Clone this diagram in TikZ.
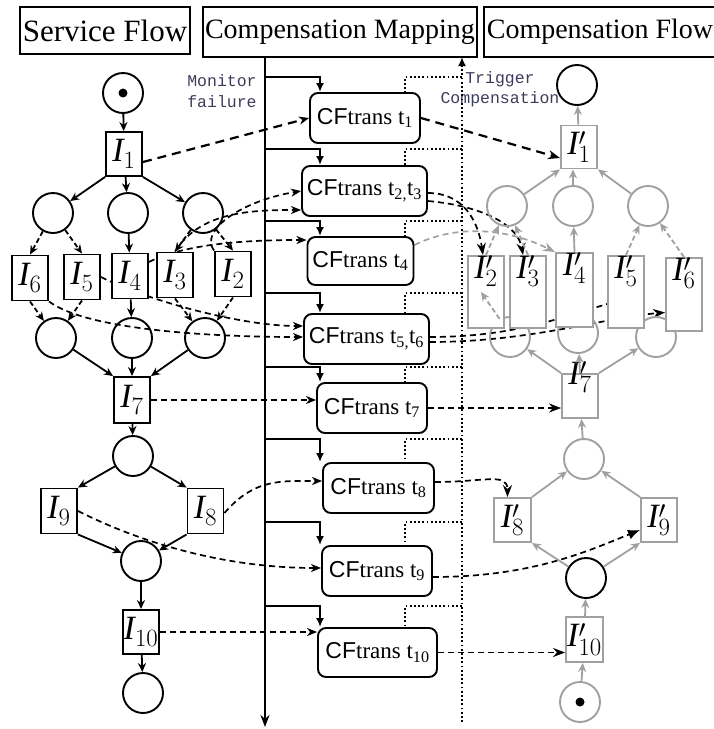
\documentclass[tikz,border=0pt]{standalone}
\usepackage{fontspec}
\setmainfont{Liberation Serif}
\newfontfamily\cfsans{Liberation Sans}
\newfontfamily\notefont{Liberation Mono}
\usetikzlibrary{arrows.meta}
\definecolor{cgrey}{RGB}{160,160,160}
\definecolor{notecol}{RGB}{60,60,90}
\pgfdeclarelayer{bg}
\pgfsetlayers{bg,main}

\begin{document}
\begin{tikzpicture}[x=1pt, y=-1pt,
  place/.style={circle, draw, line width=1.9pt, minimum size=40pt, inner sep=0pt},
  gplace/.style={place, draw=cgrey},
  tok/.style={circle, fill=black, minimum size=9pt, inner sep=0pt},
  trans/.style={rectangle, draw, fill=white, line width=1.9pt, minimum width=36pt,
    minimum height=44pt, inner sep=0pt, font=\fontsize{34}{36}\selectfont},
  gtrans/.style={trans, draw=cgrey},
  tall/.style={gtrans, minimum height=72pt},
  tlab/.style={anchor=north, inner sep=0pt, font=\fontsize{34}{36}\selectfont},
  cfbox/.style={rectangle, rounded corners=8pt, draw, fill=white, line width=1.9pt,
    minimum height=50pt, inner xsep=5pt, font=\fontsize{23}{25}\selectfont},
  title/.style={rectangle, draw, line width=1.9pt, inner sep=2pt, minimum height=50pt},
  note/.style={align=center, text=notecol, font=\notefont\fontsize{16.5}{20.5}\selectfont},
  arc/.style={line width=1.8pt, -{Stealth[length=9pt,width=8pt]}},
  darc/.style={arc, dash pattern=on 5pt off 3pt},
  garc/.style={arc, draw=cgrey},
  gdarc/.style={garc, dash pattern=on 5pt off 3pt},
  map/.style={line width=1.7pt, dash pattern=on 6pt off 4pt, -{Stealth[length=10pt,width=8pt,inset=3pt]}},
  mapr/.style={line width=1.7pt, dash pattern=on 6pt off 4pt, -{Stealth[length=12pt,width=9pt]}},
  branch/.style={line width=1.9pt, -{Latex[length=9pt,width=8pt]}},
  dots/.style={line width=1.8pt, dash pattern=on 1.8pt off 2.4pt}
]
  \useasboundingbox (0,0) rectangle (713,729);

  % titles
  \node[title, minimum width=170pt, minimum height=47pt, font=\fontsize{31}{33}\selectfont] (sf) at (105,30.5) {Service Flow};
  \node[title, minimum width=274pt, font=\fontsize{28}{30}\selectfont] (cm) at (340,32) {Compensation Mapping};
  \node[title, minimum width=232pt, font=\fontsize{28}{30}\selectfont] (cf) at (600,32) {Compensation Flow};
  \node[note] (mon) at (222,91) {Monitor\\failure};
  \node[note] (trig) at (500,89) {Trigger\\Compensation};

  % Service Flow
  \node[place] (p0) at (123,93) {};
  \node[tok] (tk0) at (p0) {};
  \node[trans] (i1) at (124,154) {$\mathit{I}_1$};
  \node[place] (pa1) at (53,213) {};
  \node[place] (pa2) at (128,213) {};
  \node[place] (pa3) at (203,213) {};
  \node[trans, minimum height=45pt] (i6) at (30,278) {$\mathit{I}_6$};
  \node[trans, minimum height=45pt] (i5) at (82,277) {$\mathit{I}_5$};
  \node[trans, minimum height=45pt] (i4) at (130,276) {$\mathit{I}_4$};
  \node[trans, minimum height=45pt] (i3) at (175,275) {$\mathit{I}_3$};
  \node[trans, minimum height=45pt] (i2) at (233,274) {$\mathit{I}_2$};
  \node[place] (pb1) at (56,338) {};
  \node[place] (pb2) at (132,338) {};
  \node[place] (pb3) at (205,338) {};
  \node[trans, minimum height=46pt] (i7) at (132,400) {$\mathit{I}_7$};
  \node[place] (pc) at (133,456) {};
  \node[trans, minimum height=45pt] (i9) at (59,511) {$\mathit{I}_9$};
  \node[trans, minimum height=45pt] (i8) at (205.5,511) {$\mathit{I}_8$};
  \node[place] (pd) at (141,561) {};
  \node[trans] (i10) at (141,632) {$\mathit{I}_{10}$};
  \node[place] (pe) at (143,693) {};

  % Compensation Mapping
  \node[cfbox, minimum width=110pt] (t1) at (365,118) {{\cfsans CF}trans t\textsubscript{1}};
  \node[cfbox, minimum width=123pt] (t23) at (364.5,191) {{\cfsans CF}trans t\textsubscript{2,}t\textsubscript{3}};
  \node[cfbox, minimum width=105pt, minimum height=48pt] (t4) at (360.5,261) {{\cfsans CF}trans t\textsubscript{4}};
  \node[cfbox, minimum width=123pt] (t56) at (366.5,339) {{\cfsans CF}trans t\textsubscript{5,}t\textsubscript{6}};
  \node[cfbox, minimum width=110pt] (t7) at (372,408) {{\cfsans CF}trans t\textsubscript{7}};
  \node[cfbox, minimum width=111pt] (t8) at (378.5,488) {{\cfsans CF}trans t\textsubscript{8}};
  \node[cfbox, minimum width=110pt] (t9) at (377,571) {{\cfsans CF}trans t\textsubscript{9}};
  \node[cfbox, minimum width=119pt, minimum height=49pt] (t10) at (377.5,652.5) {{\cfsans CF}trans t\textsubscript{10}};

  \coordinate (mtop) at (265,57);
  \coordinate (mbot) at (265,727);
  \draw[line width=1.9pt, -{Stealth[length=12pt,width=9pt]}] (mtop) -- (mbot);
  \coordinate (dtop) at (462,57);
  \coordinate (dbot) at (462,722);
  \draw[dots, -{Latex[length=9pt,width=8pt]}] (dbot) -- (dtop);
  \foreach \y/\n in {77/t1, 149/t23, 221/t4, 293/t56, 367/t7, 439/t8, 522/t9, 606/t10} {
    \coordinate (b\n) at (320,\y);
    \coordinate (d\n) at (405,\y);
    \draw[branch] (mtop |- b\n) -- (b\n) -- (b\n |- \n.north);
    \draw[dots] (dtop |- d\n) -- (d\n) -- (d\n |- \n.north);
  }

  % Compensation Flow
  \node[place] (q0) at (577,85) {};
  \node[gtrans, minimum height=43pt] (j1) at (579,147) {$\mathit{I}'_1$};
  \node[gplace] (qa1) at (507,206) {};
  \node[gplace] (qa2) at (573,206) {};
  \node[gplace] (qa3) at (648,206) {};
  \node[gplace] (qb1) at (510,337) {};
  \node[gplace] (qb2) at (578,333) {};
  \node[gplace] (qb3) at (656,337) {};
  \node[tall, label={[tlab]north:$\mathit{I}'_2$}] (j2) at (486,292) {};
  \node[tall, label={[tlab]north:$\mathit{I}'_3$}] (j3) at (528,292) {};
  \node[tall, minimum width=37pt, minimum height=74pt, label={[tlab]north:$\mathit{I}'_4$}] (j4) at (574.5,290) {};
  \node[tall, label={[tlab]north:$\mathit{I}'_5$}] (j5) at (626,292) {};
  \node[tall, minimum height=73pt, label={[tlab]north:$\mathit{I}'_6$}] (j6) at (684,294.5) {};
  \node[gtrans, label={[tlab, anchor=center, yshift=-4pt]north:$\mathit{I}'_7$}] (j7) at (580,396) {};
  \node[gplace] (qc) at (584,459) {};
  \node[gtrans, minimum width=37pt] (j8) at (512.5,520) {$\mathit{I}'_8$};
  \node[gtrans] (j9) at (659,520) {$\mathit{I}'_9$};
  \node[place] (qd) at (586,578) {};
  \node[gtrans, minimum width=37pt, minimum height=45pt] (j10) at (584.5,639.5) {$\mathit{I}'_{10}$};
  \node[gplace] (qe) at (580,702) {};
  \node[tok] (tk1) at (qe) {};

  % service flow arcs
  \draw[arc] (p0) -- (i1);
  \draw[arc] (i1.south west) -- (pa1);
  \draw[arc] (i1) -- (pa2);
  \draw[arc] (i1.south east) -- (pa3);
  \draw[darc] (pa1) -- (i6.north);
  \draw[darc] (pa1) -- (i5.north);
  \draw[arc] (pa2) -- (i4);
  \draw[darc] (pa3) -- (i3.north);
  \draw[darc] (pa3) -- (i2.north);
  \draw[darc] (i6.south) -- (pb1);
  \draw[darc] (i5.south) -- (pb1);
  \draw[arc] (i4) -- (pb2);
  \draw[darc] (i3.south) -- (pb3);
  \draw[darc] (i2.south) -- (pb3);
  \draw[arc] (pb1) -- (i7.north west);
  \draw[arc] (pb2) -- (i7);
  \draw[arc] (pb3) -- (i7.north east);
  \draw[arc] (i7) -- (pc);
  \draw[arc] (pc) -- (i9.north east);
  \draw[arc] (pc) -- (i8.north west);
  \draw[arc] (i9.south east) -- (pd);
  \draw[arc] (i8.south west) -- (pd);
  \draw[arc] (pd) -- (i10);
  \draw[arc] (i10) -- (pe);

  % compensation flow arcs
  \draw[garc] (j1) -- (q0);
  \draw[garc] (qa1) -- (j1.south west);
  \draw[garc] (qa2) -- (qa2 |- j1.south);
  \draw[garc] (qa3) -- (j1.south east);
  \draw[gdarc] (j2.north) -- (qa1);
  \draw[gdarc] (j3.north) -- (qa1);
  \draw[garc] (j4.north) -- (qa2);
  \draw[gdarc] (j5.north) -- (qa3);
  \draw[gdarc] (j6.north) -- (qa3);
  \draw[gdarc] (qb1.120) -- ([xshift=-5pt]j2.center);
  \draw[garc] (j7.north west) -- (qb1);
  \draw[garc] (j7.north) -- (qb2);
  \draw[garc] (j7.north east) -- (qb3);
  \draw[garc] (qc) -- (j7);
  \draw[garc] (j8.north east) -- (qc);
  \draw[garc] (j9.north west) -- (qc);
  \draw[garc] (qd) -- (j8.south east);
  \draw[garc] (qd) -- (j9.south west);
  \draw[garc] (j10) -- (qd);
  \draw[garc] (qe) -- (j10);

  % mapping links
  \begin{pgfonlayer}{bg}
    \draw[map, line width=2.2pt, dash pattern=on 9pt off 6pt] ([yshift=-8pt]i1.east) -- (t1.west);
    \draw[mapr, line width=2.2pt, dash pattern=on 9pt off 6pt] (t1.east) -- ([yshift=-11pt]j1.west);
    \draw[map] (i2.north west) .. controls +(-15,-20) and +(-60,10) .. (t23.west);
    \draw[map] (i3.north) .. controls +(25,-40) and +(-50,0) .. ([yshift=-19pt]t23.west);
    \draw[map] ([yshift=14pt]i4.east) .. controls +(40,-20) and +(-50,0) .. ([yshift=21pt]t4.west);
    \draw[map] (i5.east) .. controls +(50,25) and +(-60,0) .. ([yshift=13pt]t56.west);
    \draw[map] (i6.south east) .. controls +(40,30) and +(-80,0) .. ([yshift=2pt]t56.west);
    \draw[map] (i7.east) -- (i7.east -| t7.west);
    \draw[map] ([yshift=-2pt]i8.east) .. controls +(30,-35) and +(-40,0) .. ([yshift=7pt]t8.west);
    \draw[map] (i9.east) .. controls +(80,40) and +(-80,0) .. ([yshift=3pt]t9.west);
    \draw[map] (i10.east) -- (i10.east -| t10.west);
    \draw[mapr] ([yshift=-2pt]t23.east) .. controls +(35,0) and +(-5,-35) .. ([xshift=-3pt]j2.north);
    \draw[mapr] ([yshift=-10pt]t23.east) .. controls +(55,5) and +(-5,-30) .. ([xshift=-5pt]j3.north);
    \draw[mapr, draw=cgrey] ([yshift=16pt]t4.east) .. controls +(40,-20) and +(-50,-25) .. (j4.north west);
    \draw[line width=1.7pt, dash pattern=on 6pt off 4pt] ([yshift=2pt]t56.east) .. controls +(80,0) and +(-50,15) .. ([yshift=-12pt]j5.west);
    \draw[mapr] ([yshift=-3pt]t56.east) .. controls +(100,0) and +(-60,5) .. ([yshift=-18pt]j6.west);
    \draw[mapr] (t7.east) -- (t7.east -| j7.west);
    \draw[mapr] ([yshift=6pt]t8.east) .. controls +(50,0) and +(0,-25) .. ([xshift=-5pt]j8.north);
    \draw[mapr, -{Latex[length=12pt,width=10pt]}] ([yshift=-6pt]t9.east) .. controls +(100,0) and +(-50,20) .. ([yshift=-10pt]j9.west);
    \draw[mapr] (t10.east) -- (t10.east -| j10.west);
  \end{pgfonlayer}
\end{tikzpicture}
\end{document}
